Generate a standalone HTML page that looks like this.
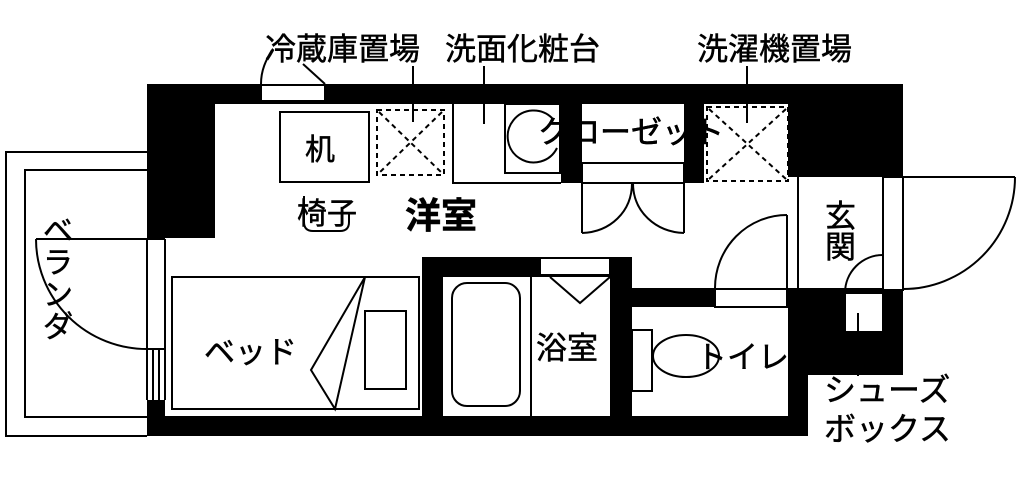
<!DOCTYPE html>
<html><head><meta charset="utf-8"><style>
html,body{margin:0;padding:0;background:#fff;}
svg{display:block;}
text{font-family:"Liberation Sans","Noto Sans CJK JP",sans-serif;fill:#000;stroke:#000;stroke-width:0.5;}
</style></head><body>
<svg width="1024" height="486" viewBox="0 0 1024 486" xmlns="http://www.w3.org/2000/svg">
<g fill="#000">
<rect x="147" y="84" width="756" height="20"/>
<rect x="147" y="84" width="68" height="154"/>
<rect x="561" y="104" width="21" height="79"/>
<rect x="684" y="104" width="20" height="79"/>
<rect x="788" y="104" width="115" height="73"/>
<rect x="422" y="257" width="210" height="20"/>
<rect x="422" y="257" width="21" height="179"/>
<rect x="610" y="257" width="22" height="179"/>
<rect x="632" y="288" width="271" height="19"/>
<rect x="788" y="288" width="115" height="87"/>
<rect x="788" y="288" width="20" height="148"/>
<rect x="147" y="416" width="661" height="20"/>
<rect x="147" y="400" width="18" height="36"/>
</g>
<g fill="#fff" stroke="#000" stroke-width="2">
<rect x="261" y="85" width="64" height="16"/>
<rect x="540" y="258" width="70" height="17"/>
<rect x="715" y="289" width="72" height="18"/>
<rect x="845" y="293" width="38" height="39"/>
</g>
<g fill="none" stroke="#000" stroke-width="2">
<polyline points="147,152 6,152 6,436 147,436"/>
<polyline points="147,170 25,170 25,417 147,417"/>
<line x1="147" y1="239" x2="147" y2="400"/>
<line x1="165" y1="239" x2="165" y2="400"/>
<line x1="147" y1="239" x2="165" y2="239"/>
<line x1="36" y1="239" x2="147" y2="239"/>
<path d="M36,239 A111,110 0 0 0 147,349"/>
<line x1="147" y1="349" x2="165" y2="349"/>
<line x1="153" y1="349" x2="153" y2="400"/>
<line x1="159" y1="349" x2="159" y2="400"/>
<path d="M261,84 C261,70 266,60 272,50"/>
<line x1="325" y1="84" x2="303" y2="64"/>
<rect x="280" y="112" width="89" height="70"/>
<g stroke-dasharray="5,4">
<rect x="377" y="110" width="67" height="65"/>
<line x1="379" y1="112" x2="442" y2="173"/>
<line x1="442" y1="112" x2="379" y2="173"/>
<rect x="707" y="107" width="81" height="74"/>
<line x1="709" y1="109" x2="786" y2="179"/>
<line x1="786" y1="109" x2="709" y2="179"/>
</g>
<polyline points="453,104 453,183 561,183"/>
<rect x="505" y="104" width="55" height="69"/>
<path d="M552,118 A26,26 0 1 0 557,148"/>
<line x1="413" y1="66" x2="413" y2="122"/>
<line x1="484" y1="66" x2="484" y2="124"/>
<line x1="747" y1="66" x2="747" y2="123"/>
<line x1="858" y1="313" x2="858" y2="376"/>
<rect x="582" y="163" width="102" height="20"/>
<line x1="582" y1="183" x2="582" y2="233"/>
<line x1="684" y1="183" x2="684" y2="233"/>
<path d="M582,233 C610,232 632,212 632,183"/>
<path d="M684,233 C656,232 633,212 633,183"/>
<line x1="798" y1="177" x2="798" y2="288"/>
<rect x="883" y="177" width="20" height="113" fill="#fff"/>
<line x1="903" y1="177" x2="1015" y2="177"/>
<path d="M1015,177 A112,112 0 0 1 903,289"/>
<line x1="787" y1="215" x2="787" y2="288"/>
<path d="M787,215 A72,73 0 0 0 715,288"/>
<line x1="883" y1="255" x2="883" y2="293"/>
<path d="M883,255 A38,38 0 0 0 845,293"/>
<rect x="172" y="277" width="247" height="132"/>
<polyline points="365,277 311,370 335,409 365,277"/>
<rect x="365" y="311" width="41" height="78"/>
<path d="M304,196 L304,222 Q304,231 313,231 L340,231 Q349,231 349,222 L349,214"/>
<line x1="531" y1="277" x2="531" y2="416"/>
<rect x="452" y="283" width="68" height="123" rx="15"/>
<polyline points="550,277 580,303 610,277"/>
<rect x="632" y="330" width="20" height="61" fill="#fff"/>
<ellipse cx="686" cy="356" rx="33" ry="21"/>
</g>
<g font-size="31">
<text x="265" y="60">冷蔵庫置場</text>
<text x="445" y="60">洗面化粧台</text>
<text x="697" y="60">洗濯機置場</text>
<text x="305" y="160" font-size="30">机</text>
<text x="297" y="224" font-size="30">椅子</text>
<text x="405" y="228" font-size="36" font-weight="bold">洋室</text>
<text x="538" y="143" font-size="31" style="paint-order:stroke" stroke="#fff" stroke-width="4">クローゼット</text>
<text x="538" y="143" font-size="31">クローゼット</text>
<text x="825" y="227" font-size="31">玄</text>
<text x="825" y="258" font-size="31">関</text>
<text x="204" y="363" font-size="31">ベッド</text>
<text x="536" y="359" font-size="31">浴室</text>
<text x="696" y="368" font-size="31">トイレ</text>
<text x="824" y="401" font-size="32">シューズ</text>
<text x="824" y="440" font-size="32">ボックス</text>
<text x="43" y="241" font-size="30">ベ</text>
<text x="43" y="273" font-size="30">ラ</text>
<text x="43" y="305" font-size="30">ン</text>
<text x="43" y="337" font-size="30">ダ</text>
</g>
</svg>
</body></html>
